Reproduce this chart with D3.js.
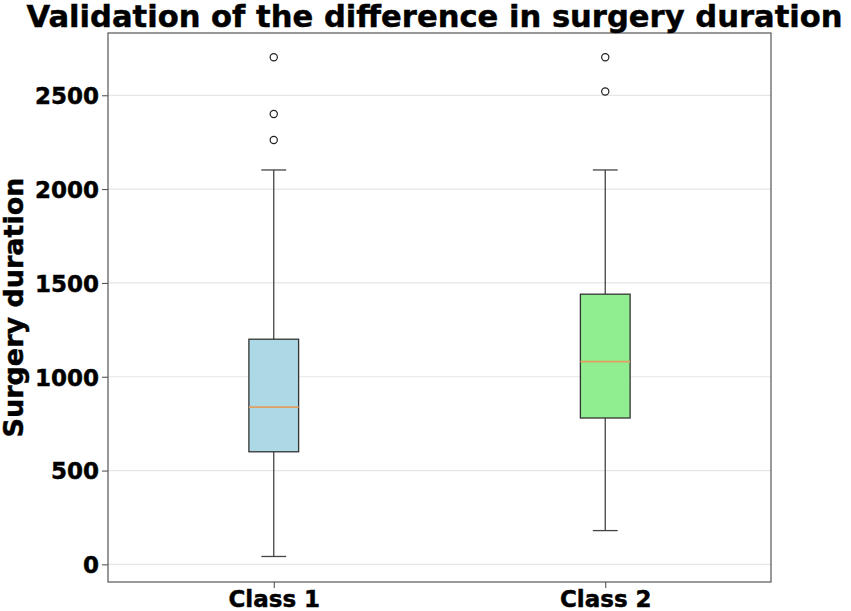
<!DOCTYPE html>
<html><head><meta charset="utf-8">
<script src="https://cdn.jsdelivr.net/npm/d3@7"></script>
<style>body{margin:0;background:#fff}svg{display:block}text{font-family:"DejaVu Sans",sans-serif;font-weight:bold;fill:#000;stroke:#000;stroke-width:0.45px}</style>
</head><body>
<svg id="c" width="851" height="611"></svg>
<script>
const categories = ["Class 1", "Class 2"];
const q1 = [600, 780];
const medians = [838, 1080];
const q3 = [1200, 1440];
const whiskerLow = [42, 180];
const whiskerHigh = [2102, 2102];
const outliers = [[2703, 2400, 2262], [2703, 2520]];
const yTicks = [0, 500, 1000, 1500, 2000, 2500];
const fills = ["#add8e6", "#90ee90"];

const svg = d3.select("#c");
const L = 108, R = 771, T = 33, B = 582;
const x = d3.scaleLinear().domain([0.5, 2.5]).range([L, R]);
const y = d3.scaleLinear().domain([-94, 2832]).range([B, T]);
const bw = (x(2) - x(1)) * 0.15;

// grid
svg.append("g").selectAll("line").data(yTicks).join("line")
  .attr("x1", L).attr("x2", R).attr("y1", d => y(d)).attr("y2", d => y(d))
  .attr("stroke", "#e6e6e6").attr("stroke-width", 1.2);

// y axis
const ya = svg.append("g").attr("transform", `translate(${L},0)`)
  .call(d3.axisLeft(y).tickValues(yTicks).tickSize(6).tickPadding(4).tickFormat(d3.format("d")));
ya.select(".domain").remove();
ya.selectAll("line").attr("stroke", "#444");
ya.selectAll("text").style("font-size", "23px").attr("dy", "0.36em").attr("dx", "1");

// x axis
const xa = svg.append("g").attr("transform", `translate(0,${B})`)
  .call(d3.axisBottom(x).tickValues([1, 2]).tickSize(6).tickPadding(3).tickFormat((d, i) => categories[i]));
xa.select(".domain").remove();
xa.selectAll("line").attr("stroke", "#444");
xa.selectAll("text").style("font-size", "23px").attr("dy", "0.7em");

// boxes
categories.forEach((c, i) => {
  const cx = x(i + 1);
  const g = svg.append("g");
  g.append("line").attr("x1", cx).attr("x2", cx).attr("y1", y(q1[i])).attr("y2", y(whiskerLow[i])).attr("stroke", "#444").attr("stroke-width", 1.3);
  g.append("line").attr("x1", cx).attr("x2", cx).attr("y1", y(q3[i])).attr("y2", y(whiskerHigh[i])).attr("stroke", "#444").attr("stroke-width", 1.3);
  [whiskerLow[i], whiskerHigh[i]].forEach(v => g.append("line")
    .attr("x1", cx - bw / 4).attr("x2", cx + bw / 4)
    .attr("y1", y(v)).attr("y2", y(v)).attr("stroke", "#444").attr("stroke-width", 1.3));
  g.append("rect").attr("x", cx - bw / 2).attr("width", bw)
    .attr("y", y(q3[i])).attr("height", y(q1[i]) - y(q3[i]))
    .attr("fill", fills[i]).attr("stroke", "#333").attr("stroke-width", 1.3);
  g.append("line").attr("x1", cx - bw / 2).attr("x2", cx + bw / 2)
    .attr("y1", y(medians[i])).attr("y2", y(medians[i])).attr("stroke", "#e0a060").attr("stroke-width", 1.8);
  g.selectAll("circle").data(outliers[i]).join("circle")
    .attr("cx", cx).attr("cy", d => y(d)).attr("r", 3.6)
    .attr("fill", "none").attr("stroke", "#222").attr("stroke-width", 1.2);
});

// frame
svg.append("rect").attr("x", L).attr("y", T).attr("width", R - L).attr("height", B - T)
  .attr("fill", "none").attr("stroke", "#555").attr("stroke-width", 1.2);

// title
svg.append("text").attr("x", 434.5).attr("y", 26.5).attr("text-anchor", "middle")
  .style("font-size", "30.6px").text("Validation of the difference in surgery duration");

// y label
svg.append("text").attr("transform", `translate(22.5,${(T + B) / 2}) rotate(-90)`)
  .attr("text-anchor", "middle").style("font-size", "27px").text("Surgery duration");
</script>
</body></html>
